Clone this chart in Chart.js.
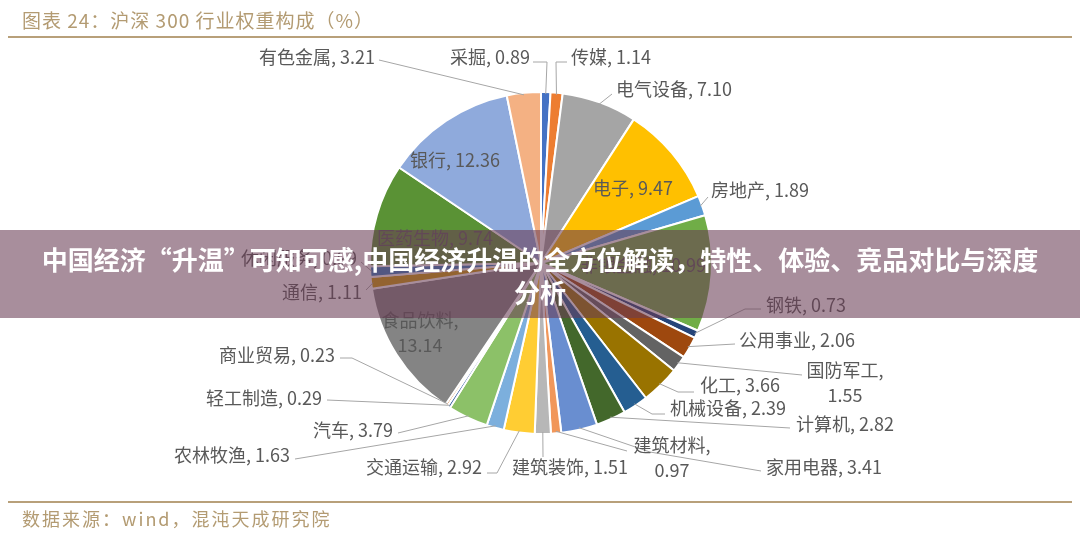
<!DOCTYPE html>
<html>
<head>
<meta charset="utf-8">
<script src="https://cdn.jsdelivr.net/npm/chart.js@4/dist/chart.umd.min.js"></script>
<style>
  body { margin: 0; background: #fff; font-family: "Noto Sans CJK SC", "Noto Sans", sans-serif; }
  #wrap { position: relative; width: 1080px; height: 548px; overflow: hidden; }
  canvas { position: absolute; left: 0; top: 0; }
  .title { position: absolute; left: 22px; top: 6px; font-size: 19px; color: #b39b72; letter-spacing: 1px; }
  .rule { position: absolute; left: 8px; width: 1064px; height: 2px; background: #b8a07a; }
  .src { position: absolute; left: 22px; top: 505px; font-size: 18px; color: #b39b72; letter-spacing: 2px; }
  .banner { position: absolute; left: 0; top: 230px; width: 1080px; height: 88px; background: rgba(105, 60, 85, 0.58);
            color: #fff; font-weight: bold; font-size: 26px; text-align: center; line-height: 33px; padding-top: 12px; box-sizing: border-box; }
</style>
</head>
<body>
<div id="wrap">
  <canvas id="pie" width="1080" height="548"></canvas>
  <div class="title">图表 24：沪深 300 行业权重构成（%）</div>
  <div class="rule" style="top:36px"></div>
  <div class="rule" style="top:501px"></div>
  <div class="src">数据来源：wind，混沌天成研究院</div>
  <div class="banner">中国经济“升温”可知可感,中国经济升温的全方位解读，特性、体验、竞品对比与深度<br>分析</div>
</div>
<script>
// industry weights of the CSI 300 (%), in the order the slices go round
var industries = ["采掘", "传媒", "电气设备", "电子", "房地产", "非银金融", "钢铁", "公用事业", "国防军工", "化工",
  "机械设备", "计算机", "家用电器", "建筑材料", "建筑装饰", "交通运输", "农林牧渔", "汽车", "轻工制造", "商业贸易",
  "食品饮料", "通信", "休闲服务", "医药生物", "银行", "有色金属"]
var weights = [0.89, 1.14, 7.10, 9.47, 1.89, 10.99, 0.73, 2.06, 1.55, 3.66,
  2.39, 2.82, 3.41, 0.97, 1.51, 2.92, 1.63, 3.79, 0.29, 0.23,
  13.14, 1.11, 0.99, 9.74, 12.36, 3.21]
var colors = ["#4472c4", "#ed7d31", "#a5a5a5", "#ffc000", "#5b9bd5", "#70ad47", "#264478", "#9e480e", "#636363", "#997300",
  "#255e91", "#43682b", "#698ed0", "#f1975a", "#b7b7b7", "#ffcd33", "#7cafdd", "#8cc168", "#335aa1", "#d26012",
  "#848484", "#cc9a00", "#327dc2", "#5a9235", "#8faadc", "#f4b183"]
// labels that break onto two lines
var twoLine = {"国防军工": 1, "建筑材料": 1, "食品饮料": 1}

// where each label sits, and the bend points of its leader line (none = inside the slice)
var labelPos = [
  {x: 530, y: 57, a: "right", pts: [[547, 62], [533, 62]]},
  {x: 571, y: 57, a: "left", pts: [[556, 62], [567, 62]]},
  {x: 616, y: 89, a: "left", pts: [[612, 94]]},
  {x: 633, y: 188, a: "center"},
  {x: 711, y: 190, a: "left", pts: [[708, 197]]},
  {x: 643, y: 265, a: "center"},
  {x: 766, y: 305, a: "left", pts: [[745, 309], [761, 309]]},
  {x: 739, y: 340, a: "left", pts: [[735, 344]]},
  {x: 845, y: 370, a: "center", pts: [[802, 375]]},
  {x: 700, y: 385, a: "left", pts: [[678, 392], [694, 392]]},
  {x: 670, y: 408, a: "left", pts: [[652, 414], [665, 414]]},
  {x: 796, y: 424, a: "left", pts: [[790, 428]]},
  {x: 766, y: 467, a: "left", pts: [[650, 452], [761, 471]]},
  {x: 672, y: 445, a: "center", pts: [[627, 451]]},
  {x: 570, y: 467, a: "center", pts: [[543, 457]]},
  {x: 482, y: 467, a: "right", pts: [[497, 473], [487, 473]]},
  {x: 290, y: 455, a: "right", pts: [[295, 459]]},
  {x: 393, y: 430, a: "right", pts: [[398, 433]]},
  {x: 322, y: 398, a: "right", pts: [[327, 400]]},
  {x: 335, y: 355, a: "right", pts: [[352, 358], [340, 358]]},
  {x: 420, y: 320, a: "center"},
  {x: 362, y: 292, a: "right", pts: [[366, 290]]},
  {x: 357, y: 258, a: "right", pts: [[361, 262]]},
  {x: 435, y: 238, a: "center"},
  {x: 455, y: 160, a: "center"},
  {x: 375, y: 57, a: "right", pts: [[379, 60]]}
]

var pieLabels = {
  id: "pieLabels",
  afterDatasetsDraw: function(chart) {
    var ctx = chart.ctx
    var arcs = chart.getDatasetMeta(0).data
    ctx.save()
    ctx.font = "18px 'Noto Sans CJK SC', sans-serif"
    ctx.textBaseline = "middle"
    for (var i = 0; i < arcs.length; i++) {
      var p = arcs[i].getProps(["x", "y", "startAngle", "endAngle", "outerRadius"], true)
      var mid = (p.startAngle + p.endAngle) / 2
      var lp = labelPos[i]
      if (lp.pts) {
        ctx.strokeStyle = "#a6a6a6"
        ctx.lineWidth = 1
        ctx.beginPath()
        ctx.moveTo(p.x + Math.cos(mid) * (p.outerRadius - 2), p.y + Math.sin(mid) * (p.outerRadius - 2))
        lp.pts.forEach(function(q) { ctx.lineTo(q[0], q[1]) })
        ctx.stroke()
      }
      ctx.fillStyle = "#595959"
      ctx.textAlign = lp.a
      var name = industries[i], val = weights[i].toFixed(2)
      if (twoLine[name]) {
        ctx.fillText(name + ",", lp.x, lp.y)
        ctx.fillText(val, lp.x, lp.y + 25)
      } else {
        ctx.fillText(name + ", " + val, lp.x, lp.y)
      }
    }
    ctx.restore()
  }
}

var pieChart = new Chart(document.getElementById("pie"), {
  type: "pie",
  data: {
    labels: industries,
    datasets: [{
      data: weights,
      backgroundColor: colors,
      borderColor: "#ffffff",
      borderWidth: 2
    }]
  },
  options: {
    responsive: false,
    animation: false,
    devicePixelRatio: 1,
    layout: { padding: { top: 91, bottom: 113, left: 369, right: 367 } },
    plugins: { legend: { display: false }, tooltip: { enabled: false } }
  },
  plugins: [pieLabels]
})
</script>
</body>
</html>
